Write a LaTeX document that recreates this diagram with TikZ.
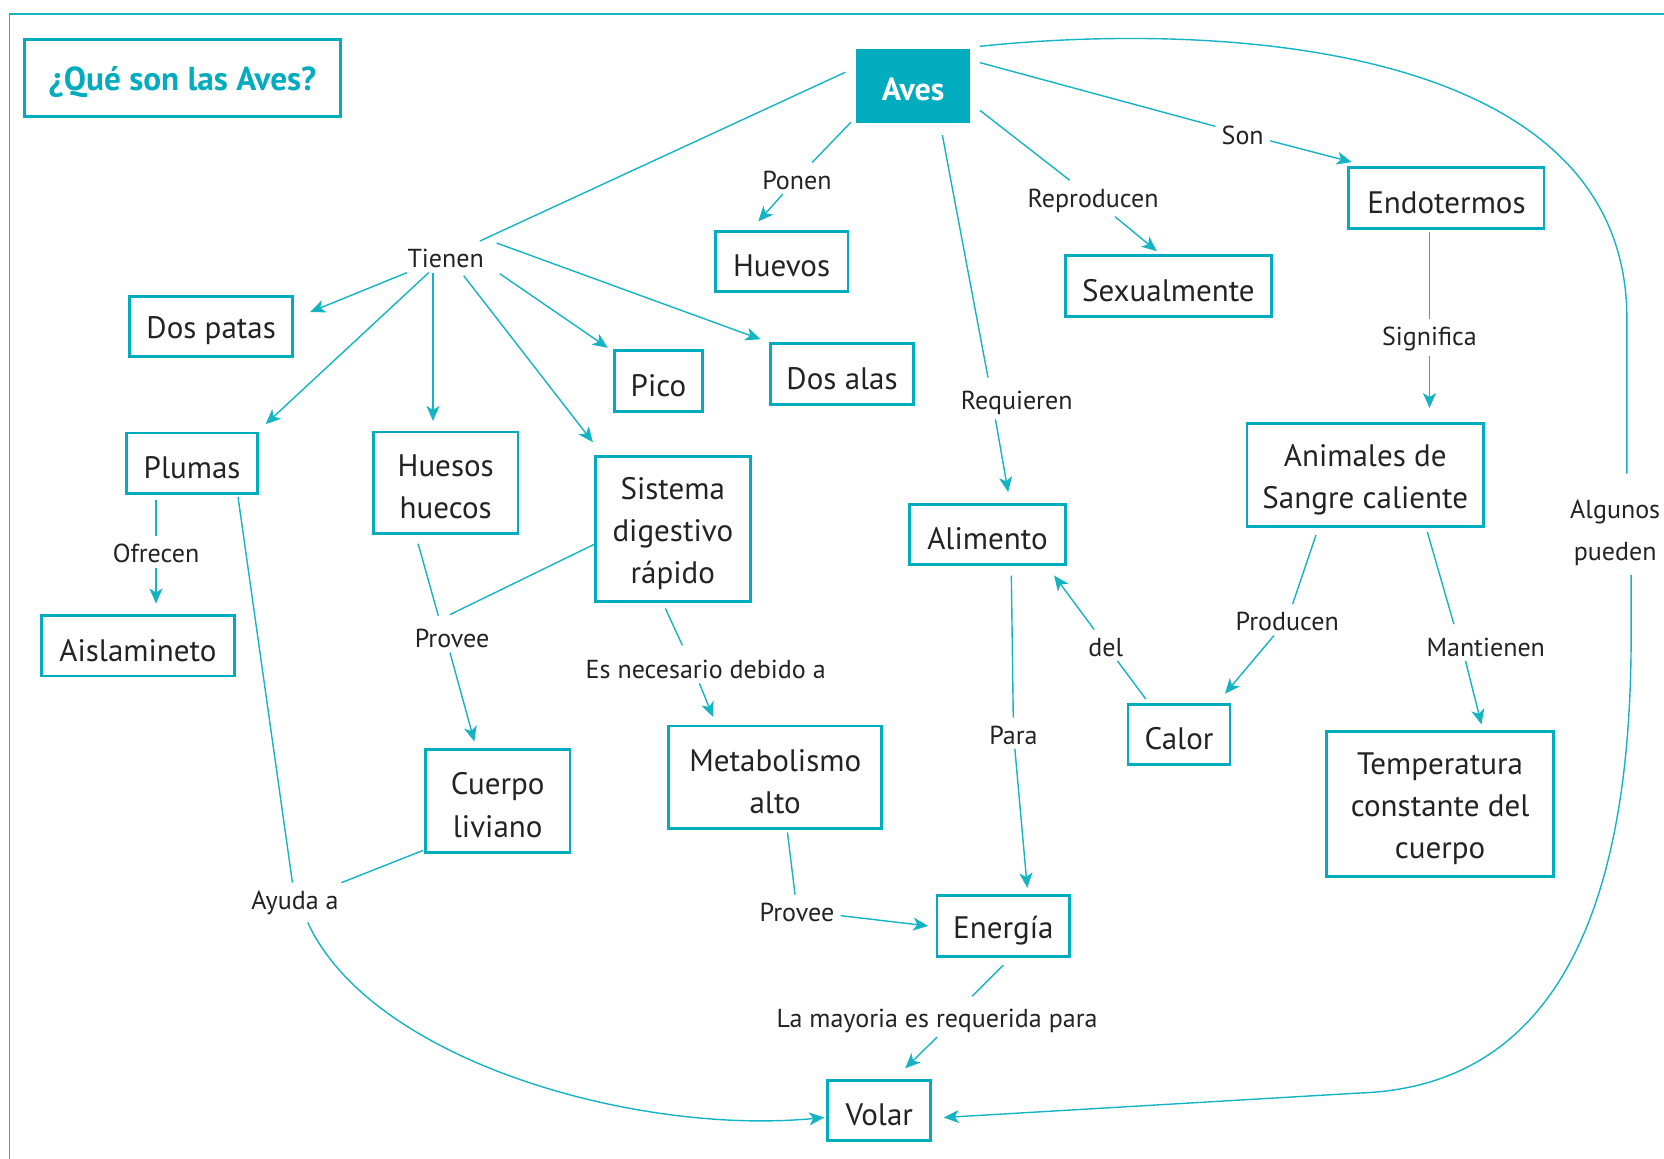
\documentclass[tikz,border=0pt]{standalone}
\usepackage{fontspec}
\setmainfont{PT Sans}
\usetikzlibrary{arrows.meta,calc}
\definecolor{teal1}{RGB}{0,172,190}
\definecolor{line1}{RGB}{20,180,196}
\definecolor{txt}{RGB}{35,35,35}
\newcommand{\dn}[1]{\raisebox{-2.2pt}[\height][\depth]{#1}}
\newcommand{\ldn}[1]{\raisebox{-1pt}[\height][\depth]{#1}}
\begin{document}
\begin{tikzpicture}[x=0.53pt,y=-0.53pt,
 box/.style={draw=teal1,line width=1.4pt,inner sep=2pt,align=center,text=txt,font=\fontsize{15.5}{21}\selectfont},
 lab/.style={inner sep=3pt,align=center,text=txt,font=\fontsize{13}{20.7}\selectfont},
 conn/.style={draw=line1,line width=0.7pt},
 arr/.style={conn,-{Stealth[length=7.5pt,width=6.5pt,inset=2pt]}}
]
\useasboundingbox (0,0) rectangle (1568,1092);
\draw[line1,line width=0.8pt] (9,1092) -- (9,13) -- (1568,13);

% boxes
\node[draw=teal1,line width=1.4pt,minimum width=157.9pt,minimum height=38.7pt,text=teal1,font=\bfseries\fontsize{16.6}{20}\selectfont] (title) at (172,73.5) {\raisebox{-2pt}[\height][\depth]{¿Qué son las Aves?}};
\node[fill=teal1,minimum width=56.7pt,minimum height=37.1pt,text=white,font=\bfseries\fontsize{16}{20}\selectfont] (aves) at (860.5,81) {\raisebox{-1.6pt}[\height][\depth]{Aves}};
\node[box,minimum width=66.3pt,minimum height=30.2pt] (huevos) at (736.5,246.5) {\dn{Huevos}};
\node[box,minimum width=102.8pt,minimum height=30.2pt] (sexual) at (1101,269.5) {\dn{Sexualmente}};
\node[box,minimum width=97.5pt,minimum height=30.2pt] (endo) at (1363,186.5) {\dn{Endotermos}};
\node[box,minimum width=81.6pt,minimum height=30.2pt] (dospatas) at (199,307.5) {\dn{Dos patas}};
\node[box,minimum width=44pt,minimum height=30.7pt] (pico) at (620.5,359) {\dn{Pico}};
\node[box,minimum width=71.6pt,minimum height=30.2pt] (dosalas) at (793.5,352.5) {\dn{Dos alas}};
\node[box,minimum width=65.7pt,minimum height=30.2pt] (plumas) at (181,436.5) {\dn{Plumas}};
\node[box,minimum width=72.1pt,minimum height=50.9pt] (huesos) at (420,455) {\dn{Huesos}\\\dn{huecos}};
\node[box,minimum width=77.4pt,minimum height=72.6pt] (sistema) at (634,498.5) {\dn{Sistema}\\\dn{digestivo}\\\dn{rápido}};
\node[box,minimum width=118.2pt,minimum height=51.4pt] (animales) at (1286.5,447.5) {\dn{Animales de}\\\dn{Sangre caliente}};
\node[box,minimum width=77.9pt,minimum height=30.2pt] (alimento) at (930.5,503.5) {\dn{Alimento}};
\node[box,minimum width=96.5pt,minimum height=30.2pt] (aisla) at (130,608.5) {\dn{Aislamineto}};
\node[box,minimum width=72.1pt,minimum height=51.4pt] (cuerpo) at (469,754.5) {\dn{Cuerpo}\\\dn{liviano}};
\node[box,minimum width=106.5pt,minimum height=51.4pt] (metab) at (730.5,732.5) {\dn{Metabolismo}\\\dn{alto}};
\node[box,minimum width=50.9pt,minimum height=29.7pt] (calor) at (1111,692) {\dn{Calor}};
\node[box,minimum width=113.4pt,minimum height=72.6pt] (temp) at (1357,757.5) {\dn{Temperatura}\\\dn{constante del}\\\dn{cuerpo}};
\node[box,minimum width=66.3pt,minimum height=30.2pt] (energia) at (945.5,872.5) {\dn{Energía}};
\node[box,minimum width=51.4pt,minimum height=30.2pt] (volar) at (828.5,1046.5) {\dn{Volar}};

% labels
\node[lab] (tienen) at (420,242) {\ldn{Tienen}};
\node[lab] (ponen) at (751,168) {\ldn{Ponen}};
\node[lab] (reproducen) at (1030,187) {\ldn{Reproducen}};
\node[lab] (son) at (1171,126) {\ldn{Son}};
\node[lab] (significa) at (1347,318) {\ldn{Significa}};
\node[lab] (requieren) at (958,378) {\ldn{Requieren}};
\node[lab] (ofrecen) at (147,520) {\ldn{Ofrecen}};
\node[lab] (provee1) at (426,600) {\ldn{Provee}};
\node[lab] (esnec) at (665,629) {\ldn{Es necesario debido a}};
\node[lab] (del) at (1042,608) {\ldn{del}};
\node[lab] (producen) at (1213,584) {\ldn{Producen}};
\node[lab] (mantienen) at (1400,608) {\ldn{Mantienen}};
\node[lab] (para) at (955,691) {\ldn{Para}};
\node[lab] (algunos) at (1522,500) {\ldn{Algunos}\\\ldn{pueden}};
\node[lab] (ayuda) at (278,849) {\ldn{Ayuda a}};
\node[lab] (provee2) at (751,858) {\ldn{Provee}};
\node[lab] (mayoria) at (883,960) {\ldn{La mayoria es requerida para}};

% connectors
\draw[conn] ($(aves.west)+(-10,-13)$) -- (tienen);
\draw[arr] (tienen) -- ($(dospatas.east)+(15,-13.5)$);
\draw[arr] (tienen) -- ($(plumas.north east)+(6,-7)$);
\draw[arr] ($(tienen.south)+(-12,0)$) -- ($(huesos.north)+(-12,-9)$);
\draw[arr] ($(tienen.south)+(17,3)$) -- ($(sistema.north west)+(-1,-12)$);
\draw[arr] ($(tienen.east)+(9,16)$) -- ($(pico.north west)+(-5,-1)$);
\draw[arr] ($(tienen.east)+(6,-13)$) -- ($(dosalas.north west)+(-8,-3)$);

\draw[conn] ($(aves.south west)+(-5,-1)$) -- (ponen);
\draw[arr] (ponen) -- ($(huevos.north)+(-22,-8)$);
\draw[conn] ($(aves.east)+(9,23)$) -- (reproducen);
\draw[arr] (reproducen) -- ($(sexual.north)+(-11,-3)$);
\draw[conn] ($(aves.east)+(9,-22)$) -- (son);
\draw[arr] (son) -- ($(endo.north west)+(4,-4)$);
\draw[conn] ($(aves.south)+(27.5,11)$) -- ($(requieren.north)+(-27,-5)$);
\draw[arr] ($(requieren.south)+(-20,0)$) -- ($(alimento.north)+(19.5,-10)$);

\draw[conn] ($(aves.north east)+(9,-2)$) .. controls (1150,20) and (1533,40) .. (1533,300) -- ($(algunos.north)+(11,-17)$);
\draw[arr] ($(algunos.south)+(15,5)$) -- (1537,600) .. controls (1537,900) and (1440,1025) .. (1280,1030) -- ($(volar.east)+(11,6.5)$);

\draw[conn,shorten <=1pt] (endo.south -| significa.north) -- (significa.north);
\draw[arr,shorten >=7pt] (significa.south) -- (significa.south |- animales.north);
\draw[conn] ($(animales.south)+(-46.5,7)$) -- (producen);
\draw[arr] (producen) -- ($(calor.north east)+(-6,-9)$);
\draw[conn] ($(animales.south)+(58.5,4)$) -- ($(mantienen.north)+(-30,-5)$);
\draw[arr] ($(mantienen.south)+(-19,0)$) -- ($(temp.north)+(39,-5)$);
\draw[conn] ($(calor.north west)+(18,-4)$) -- (del);
\draw[arr] (del) -- ($(alimento.south east)+(-12,9)$);
\draw[conn] ($(alimento.south)+(22.5,9)$) -- (para);
\draw[arr] (para) -- ($(energia.north)+(22.5,-6)$);

\draw[conn] ($(plumas.south -| ofrecen.north)+(0,5)$) -- (ofrecen.north);
\draw[arr] (ofrecen.south) -- ($(ofrecen.south |- aisla.north)+(0,-10)$);
\draw[conn] ($(plumas.south east)+(-20,2)$) -- (ayuda);
\draw[arr] ($(ayuda.south)+(12,3)$) .. controls (350,1000) and (600,1070) .. ($(volar.west)+(-2,6.5)$);
\draw[conn] ($(cuerpo.south west)+(-1,-3)$) -- (ayuda);
\draw[conn] ($(huesos.south)+(-26,8)$) -- ($(provee1.north)+(-13,-5)$);
\draw[conn] ($(sistema.west)+(0,14.5)$) -- ($(provee1.north)+(-2,-6)$);
\draw[arr] ($(provee1.south)+(-2,0)$) -- ($(cuerpo.north)+(-22,-6)$);
\draw[conn] ($(sistema.south)+(-7,5)$) -- ($(esnec.north)+(-22,-6)$);
\draw[arr] ($(esnec.south)+(-6,0)$) -- ($(metab.north)+(-58.5,-7)$);
\draw[conn] ($(metab.south)+(11.5,2)$) -- (provee2);
\draw[arr] (provee2) -- ($(energia.west)+(-7,0)$);
\draw[conn] ($(energia.south)+(0,7)$) -- ($(mayoria.north)+(33,-4)$);
\draw[arr] (mayoria.south) -- ($(volar.north)+(24.5,-10)$);
\end{tikzpicture}
\end{document}
